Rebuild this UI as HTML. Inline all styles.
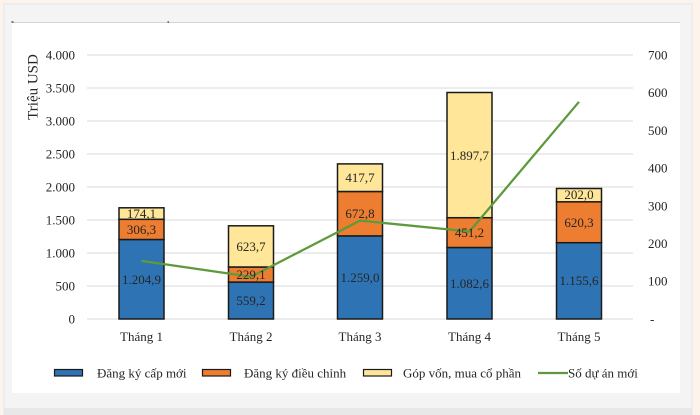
<!DOCTYPE html>
<html>
<head>
<meta charset="utf-8">
<style>
html,body{margin:0;padding:0;background:#fcf4ec;}
svg{display:block;}
text{font-family:"Liberation Serif","DejaVu Serif",serif;fill:#262626;}
</style>
</head>
<body>
<svg width="700" height="415" viewBox="0 0 700 415" xmlns="http://www.w3.org/2000/svg">
  <rect x="0" y="0" width="700" height="415" fill="#fcf4ec"/>
  <rect x="4" y="4" width="688" height="411" fill="#f4f4f4" stroke="#e6e6e6" stroke-width="1"/>
  <rect x="4" y="408" width="688" height="7" fill="#e8e8e8"/>
  <rect x="12" y="22" width="668" height="371" fill="#ffffff"/>
  <line x1="12" y1="22.5" x2="680" y2="22.5" stroke="#d4d4d4" stroke-width="1"/>
  <rect x="11.5" y="21" width="2" height="2" fill="#777"/>
  <rect x="167.5" y="21" width="1.5" height="2" fill="#777"/>

  <!-- gridlines -->
  <g stroke="#d9d9d9" stroke-width="1">
    <line x1="87" y1="55" x2="633" y2="55"/>
    <line x1="87" y1="88" x2="633" y2="88"/>
    <line x1="87" y1="121" x2="633" y2="121"/>
    <line x1="87" y1="154" x2="633" y2="154"/>
    <line x1="87" y1="187" x2="633" y2="187"/>
    <line x1="87" y1="220" x2="633" y2="220"/>
    <line x1="87" y1="253" x2="633" y2="253"/>
    <line x1="87" y1="286" x2="633" y2="286"/>
    <line x1="87" y1="319" x2="633" y2="319"/>
  </g>

  <!-- left axis labels -->
  <g font-size="13" text-anchor="end">
    <text x="75" y="59.5">4.000</text>
    <text x="75" y="92.5">3.500</text>
    <text x="75" y="125.5">3.000</text>
    <text x="75" y="158.5">2.500</text>
    <text x="75" y="191.5">2.000</text>
    <text x="75" y="224.5">1.500</text>
    <text x="75" y="257.5">1.000</text>
    <text x="75" y="290.5">500</text>
    <text x="75" y="323.5">0</text>
  </g>
  <text transform="translate(37.5,87) rotate(-90)" font-size="15" text-anchor="middle">Triệu USD</text>

  <!-- right axis labels -->
  <g font-size="13" text-anchor="start">
    <text x="648" y="59.5">700</text>
    <text x="648" y="97.2">600</text>
    <text x="648" y="134.9">500</text>
    <text x="648" y="172.6">400</text>
    <text x="648" y="210.3">300</text>
    <text x="648" y="248">200</text>
    <text x="648" y="285.7">100</text>
    <text x="650" y="323.5">-</text>
  </g>

  <!-- bars -->
  <g stroke="#1a1a1a" stroke-width="1.5">
    <!-- T1 -->
    <rect x="119" y="239.5" width="45" height="79.5" fill="#2e74b5"/>
    <rect x="119" y="219.3" width="45" height="20.2" fill="#ed7d31"/>
    <rect x="119" y="207.8" width="45" height="11.5" fill="#ffe699"/>
    <!-- T2 -->
    <rect x="228.5" y="282.1" width="45" height="36.9" fill="#2e74b5"/>
    <rect x="228.5" y="267" width="45" height="15.1" fill="#ed7d31"/>
    <rect x="228.5" y="225.8" width="45" height="41.2" fill="#ffe699"/>
    <!-- T3 -->
    <rect x="337.5" y="235.9" width="45" height="83.1" fill="#2e74b5"/>
    <rect x="337.5" y="191.5" width="45" height="44.4" fill="#ed7d31"/>
    <rect x="337.5" y="163.9" width="45" height="27.6" fill="#ffe699"/>
    <!-- T4 -->
    <rect x="447" y="247.5" width="45" height="71.5" fill="#2e74b5"/>
    <rect x="447" y="217.7" width="45" height="29.8" fill="#ed7d31"/>
    <rect x="447" y="92.5" width="45" height="125.2" fill="#ffe699"/>
    <!-- T5 -->
    <rect x="556.5" y="242.7" width="45" height="76.3" fill="#2e74b5"/>
    <rect x="556.5" y="201.8" width="45" height="40.9" fill="#ed7d31"/>
    <rect x="556.5" y="188.5" width="45" height="13.3" fill="#ffe699"/>
  </g>

  <!-- line -->
  <polyline points="141.5,260.9 251,276.8 360,220.6 469.5,231.5 579,101.8" fill="none" stroke="#5e9a3c" stroke-width="2.25" stroke-linejoin="round"/>

  <!-- data labels -->
  <g font-size="13" text-anchor="middle">
    <text x="141.5" y="284">1.204,9</text>
    <text x="141.5" y="234">306,3</text>
    <text x="141.5" y="218">174,1</text>
    <text x="251" y="305">559,2</text>
    <text x="251" y="279">229,1</text>
    <text x="251" y="251">623,7</text>
    <text x="360" y="282">1.259,0</text>
    <text x="360" y="218">672,8</text>
    <text x="360" y="182">417,7</text>
    <text x="469.5" y="288">1.082,6</text>
    <text x="469.5" y="237">451,2</text>
    <text x="469.5" y="160">1.897,7</text>
    <text x="579" y="285">1.155,6</text>
    <text x="579" y="227">620,3</text>
    <text x="579" y="199">202,0</text>
  </g>

  <!-- x labels -->
  <g font-size="13" text-anchor="middle">
    <text x="141.5" y="341">Tháng 1</text>
    <text x="251" y="341">Tháng 2</text>
    <text x="360" y="341">Tháng 3</text>
    <text x="469.5" y="341">Tháng 4</text>
    <text x="579" y="341">Tháng 5</text>
  </g>

  <!-- legend -->
  <g stroke="#1a1a1a" stroke-width="1.2">
    <rect x="54.5" y="369.5" width="28" height="6.5" fill="#2e74b5"/>
    <rect x="202.5" y="369.5" width="28" height="6.5" fill="#ed7d31"/>
    <rect x="363.5" y="369.5" width="28" height="6.5" fill="#ffe699"/>
  </g>
  <line x1="538" y1="373" x2="568" y2="373" stroke="#5e9a3c" stroke-width="2.25"/>
  <g font-size="13">
    <text x="97" y="377.5">Đăng ký cấp mới</text>
    <text x="244" y="377.5">Đăng ký điều chỉnh</text>
    <text x="403" y="377.5">Góp vốn, mua cổ phần</text>
    <text x="568" y="377.5">Số dự án mới</text>
  </g>
</svg>
</body>
</html>
